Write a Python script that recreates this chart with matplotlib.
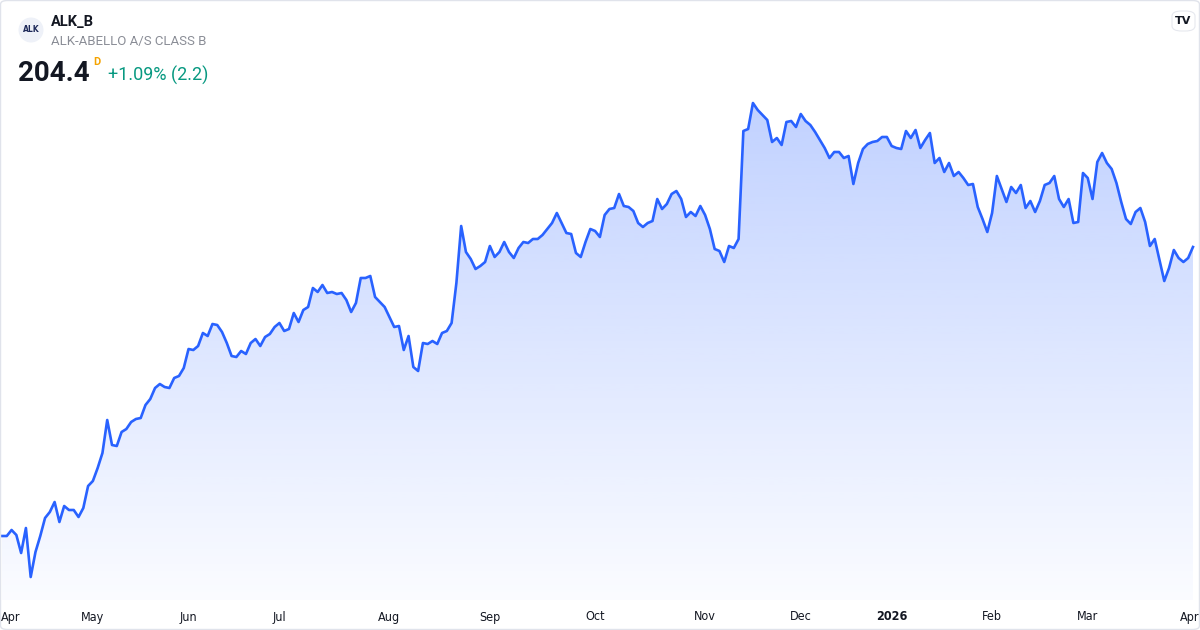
import numpy as np
import pandas as pd
import matplotlib
matplotlib.use("Agg")
import matplotlib.pyplot as plt
from matplotlib.patches import Polygon, FancyBboxPatch, Ellipse

# 종가 (2025-04-01 ~ 2026-04-01, 거래일 기준)
prices = [
    146.6, 146.6, 147.8, 146.8, 143.2, 148.2, 138.4, 143.4, 146.6, 150.2,
    151.4, 153.4, 149.4, 152.6, 151.8, 151.8, 150.4, 152.2, 156.6, 157.6,
    160.2, 163.2, 169.8, 164.8, 164.6, 167.4, 168.0, 169.4, 170.0, 170.2,
    172.8, 174.0, 176.2, 177.0, 176.4, 176.2,
    178.2, 178.6, 180.2, 184.0, 183.8, 184.6, 187.2, 186.6, 189.0, 188.8,
    187.4, 185.2, 182.6, 182.4, 183.6, 183.0, 185.2, 186.0, 184.6, 186.4,
    187.0, 188.4, 189.2, 187.6, 188.0, 191.2, 189.4, 191.8, 192.4, 196.2,
    195.4, 196.8, 195.2, 195.4, 195.0, 195.2, 193.8, 191.4, 193.2, 198.2,
    198.2, 198.6, 194.4, 193.4, 192.4, 190.4, 188.4, 188.6, 183.8, 186.6,
    180.4, 179.6, 185.2, 185.0, 185.6, 185.0, 187.2, 187.6,
    189.2, 197.2, 208.6, 203.4, 202.0, 200.0, 200.6, 201.4, 204.6, 202.4,
    203.4, 205.4, 203.4, 202.2, 204.2, 205.4, 205.2, 206.0, 206.0, 206.8,
    208.0, 209.2, 211.2, 209.2, 207.2, 207.0, 203.2, 202.4, 205.4, 208.0,
    207.6, 206.4, 210.8, 212.0, 212.2, 215.0, 212.6, 212.4, 211.6, 209.2,
    208.4, 209.2, 209.6, 214.0, 212.0, 213.0, 215.0, 215.6, 214.0, 210.4,
    211.4, 210.6, 212.6, 210.8, 208.0, 204.0, 203.6, 201.4, 204.6, 204.2,
    206.0,
    227.6, 228.0, 233.2, 231.8, 230.8, 229.8, 225.4, 226.2, 224.8, 229.4,
    229.6, 228.4, 231.0, 229.6, 228.8, 227.4, 225.8, 224.2, 222.2, 223.4,
    223.4, 222.2, 222.6, 217.0, 221.2, 224.0, 225.0, 225.4, 225.6, 226.4,
    226.4, 224.6, 224.2, 224.0, 227.6, 226.2, 227.8, 224.2, 225.8, 227.2,
    221.2, 222.2, 219.4, 221.2,
    218.6, 219.4, 218.2, 216.8, 217.0, 212.4, 210.0, 207.4, 211.2, 218.6,
    216.0, 213.4, 216.4, 215.2, 216.8, 212.2, 213.6, 211.4, 213.6, 216.8,
    217.2, 218.6, 214.0, 212.4, 214.0, 209.2, 209.4, 219.2, 218.2, 214.0,
    221.4, 223.2, 221.2, 220.0, 217.2, 213.4, 210.0, 209.0, 211.4, 212.2,
    209.4, 204.6, 206.0, 201.8, 197.6, 200.2, 203.8, 202.2, 201.4, 202.2,
    204.4,
]

# 코펜하겐 거래소 휴장일
holidays = ["2025-04-17", "2025-04-18", "2025-04-21", "2025-05-29", "2025-05-30",
            "2025-06-05", "2025-06-09", "2025-12-24", "2025-12-25", "2025-12-26",
            "2025-12-31", "2026-01-01"]
dates = pd.bdate_range("2025-04-01", "2026-04-01")
dates = dates[~dates.isin(pd.to_datetime(holidays))]

symbol = "ALK_B"
name = "ALK-ABELLO A/S CLASS B"
last_price = "204.4"
change_text = "+1.09% (2.2)"

W, H = 1200, 630
fig = plt.figure(figsize=(12, 6.3), dpi=100)
fig.patch.set_facecolor("white")

def fy(y):
    return 1 - y / H

ax = fig.add_axes([0, 30 / H, 1, 600 / H])
ax.set_facecolor("none")
x = np.arange(len(prices))
y = np.array(prices)
ax.set_xlim(-0.418, 250.47)
ax.set_ylim(133.8, 253.8)

# 그라데이션 채우기
ylo, yhi = ax.get_ylim()
top = y.max()
n = 256
grad = np.zeros((n, 1, 4))
alpha = 0.02 + 0.27 * np.clip((np.linspace(ylo, yhi, n) - ylo) / (top - ylo), 0, 1)
grad[:, 0, 0] = 41 / 255
grad[:, 0, 1] = 98 / 255
grad[:, 0, 2] = 1.0
grad[:, 0, 3] = alpha
im = ax.imshow(grad, extent=[x[0], x[-1], ylo, yhi], origin="lower",
               aspect="auto", interpolation="bilinear", zorder=1)
verts = np.vstack([np.column_stack([x, y]), [[x[-1], ylo], [x[0], ylo]]])
poly = Polygon(verts, closed=True, facecolor="none", edgecolor="none",
               transform=ax.transData)
ax.add_patch(poly)
im.set_clip_path(poly)

ax.plot(x, y, color="#2962FF", linewidth=1.9, solid_joinstyle="round", zorder=3)

ax.set_xticks([])
ax.set_yticks([])
for s in ax.spines.values():
    s.set_visible(False)

# 월 라벨
month_pos = [i for i in range(len(dates)) if i == 0 or dates[i].month != dates[i - 1].month]
for k, i in enumerate(month_pos):
    d = dates[i]
    label = d.strftime("%b") if d.month != 1 else str(d.year)
    px = (i - ax.get_xlim()[0]) / (ax.get_xlim()[1] - ax.get_xlim()[0]) * W
    ha = "center"
    if k == 0:
        ha, px = "left", 1
    elif k == len(month_pos) - 1:
        ha, px = "right", W - 1
    fig.text(px / W, fy(617), label, ha=ha, va="center", fontsize=9,
             color="#131722", fontstretch="condensed",
             fontweight="bold" if d.month == 1 else "normal")

# 헤더
fig.patches.append(Ellipse((31 / W, fy(30)), 25 / W, 25 / H, transform=fig.transFigure,
                           facecolor="#eef1f8", edgecolor="none"))
fig.text(31 / W, fy(30), "ALK", ha="center", va="center", fontsize=5.5,
         color="#1e2a5a", fontweight="bold")
fig.text(51 / W, fy(26), symbol, ha="left", va="baseline", fontsize=10.5,
         color="#131722", fontweight="bold", family="Roboto")
fig.text(51 / W, fy(45), name, ha="left", va="baseline", fontsize=9.5,
         color="#8a8d96", family="Roboto")
fig.text(18 / W, fy(81), last_price, ha="left", va="baseline", fontsize=20,
         color="#131722", fontweight="bold", family="Roboto")
fig.text(93 / W, fy(65), "D", ha="left", va="baseline", fontsize=8,
         color="#f5a300", fontweight="bold", family="Roboto")
fig.text(108 / W, fy(81), change_text, ha="left", va="baseline", fontsize=13,
         color="#089981", family="Roboto")

# TV 로고
fig.patches.append(FancyBboxPatch((1172 / W, fy(31)), 23 / W, 20 / H,
                                  boxstyle="round,pad=0,rounding_size=0.008",
                                  transform=fig.transFigure, facecolor="white",
                                  edgecolor="#e6e8ee", linewidth=0.8))
fig.text(1183.5 / W, fy(21), "TV", ha="center", va="center", fontsize=8,
         color="#131722", fontweight="heavy")

# 테두리
fig.patches.append(FancyBboxPatch((0.5 / W, 0.5 / H), 1 - 1 / W, 1 - 1 / H,
                                  boxstyle="round,pad=0,rounding_size=0.006",
                                  transform=fig.transFigure, facecolor="none",
                                  edgecolor="#e0e3eb", linewidth=1))

fig.savefig("out.png", dpi=100)
